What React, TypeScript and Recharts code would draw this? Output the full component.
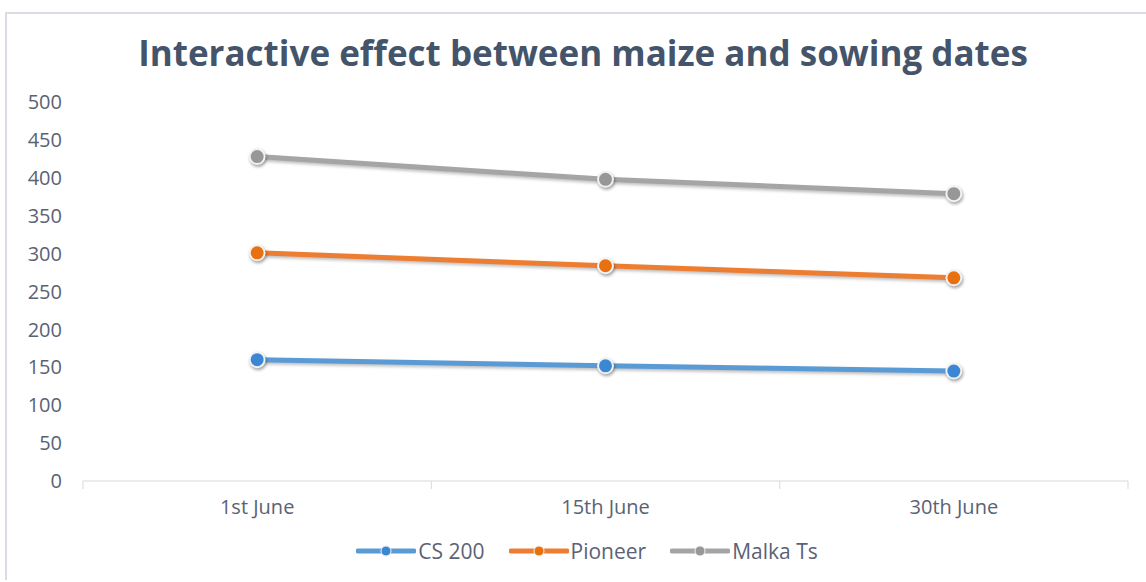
import React from "react";
import { LineChart, Line, XAxis, YAxis } from "recharts";

const dates = ["1st June", "15th June", "30th June"];
const cs200 = [160, 152, 145];
const pioneer = [301, 284, 268];
const malkaTs = [428, 398, 379];
const yTicks = [0, 50, 100, 150, 200, 250, 300, 350, 400, 450, 500];

const seriesList = [
  { key: "cs200", name: "CS 200", line: "#5b9bd5", dot: "#3b87d3" },
  { key: "pioneer", name: "Pioneer", line: "#ed7d31", dot: "#e9700f" },
  { key: "malkaTs", name: "Malka Ts", line: "#a5a5a5", dot: "#979797" },
];

const chartData = dates.map((d, i) => ({
  date: d,
  cs200: cs200[i],
  pioneer: pioneer[i],
  malkaTs: malkaTs[i],
}));

const W = 1146;
const H = 582;
const M = { top: 102, right: 18, bottom: 60, left: 13 };
const Y_W = 70;
const plotW = W - M.left - M.right - Y_W;
const half = plotW / (dates.length * 2);

const textColor = "#5a6274";
const font = "'Open Sans', sans-serif";

const XTick = (props: any) => {
  const { x, y, payload, index } = props;
  const axisY = y - 8;
  return (
    <g>
      <line x1={x - half} x2={x - half} y1={axisY} y2={axisY + 8} stroke="#d9d9d9" />
      {index === dates.length - 1 && (
        <line x1={x + half} x2={x + half} y1={axisY} y2={axisY + 8} stroke="#d9d9d9" />
      )}
      <text
        x={x}
        y={y + 25}
        textAnchor="middle"
        fill={textColor}
        fontSize={20}
        fontFamily={font}
      >
        {payload.value}
      </text>
    </g>
  );
};

const makeDot = (color: string) => (props: any) => {
  const { cx, cy, index } = props;
  if (cx == null || cy == null) return <g key={index} />;
  return (
    <circle
      key={index}
      cx={cx}
      cy={cy}
      r={7.5}
      fill={color}
      stroke="#f2f2f2"
      strokeWidth={2}
      style={{ filter: "drop-shadow(1px 2px 1.5px rgba(0,0,0,0.35))" }}
    />
  );
};

const LegendContent = () => (
  <div
    style={{
      display: "flex",
      justifyContent: "center",
      gap: 24,
      fontFamily: font,
      fontSize: 21,
      color: textColor,
    }}
  >
    {seriesList.map((s) => (
      <div key={s.key} style={{ display: "flex", alignItems: "center" }}>
        <svg width={60} height={14} style={{ marginRight: 2 }}>
          <line x1={2} x2={58} y1={7} y2={7} stroke={s.line} strokeWidth={5} strokeLinecap="round" />
          <circle cx={30} cy={7} r={5} fill={s.dot} stroke="#f2f2f2" strokeWidth={1} />
        </svg>
        <span>{s.name}</span>
      </div>
    ))}
  </div>
);

export default function App() {
  return (
    <div style={{ position: "absolute", left: 0, top: 0, width: W, height: H, background: "#fff" }}>
      <div
        style={{
          position: "absolute",
          left: 5,
          top: 12,
          width: W - 5,
          height: H - 14,
          borderLeft: "2px solid #d9dde3",
          borderTop: "2px solid #d9dde3",
          boxSizing: "border-box",
        }}
      />
      <div
        style={{
          position: "absolute",
          left: 0,
          top: 29,
          width: W + 20,
          textAlign: "center",
          fontFamily: font,
          fontWeight: 700,
          fontSize: 35,
          color: "#44546a",
        }}
      >
        Interactive effect between maize and sowing dates
      </div>
      <div style={{ position: "absolute", left: 0, top: 0 }}>
        <LineChart width={W} height={H} data={chartData} margin={M}>
          <XAxis
            dataKey="date"
            padding={{ left: half, right: half }}
            axisLine={{ stroke: "#d9d9d9" }}
            tickLine={false}
            height={41}
            tick={<XTick />}
            interval={0}
          />
          <YAxis
            width={Y_W}
            domain={[0, 500]}
            ticks={yTicks}
            axisLine={false}
            tickLine={false}
            tickSize={0}
            tickMargin={21}
            interval={0}
            tick={{ fill: textColor, fontSize: 20, fontFamily: font }}
          />
          {seriesList.map((s) => (
            <Line
              key={s.key}
              dataKey={s.key}
              name={s.name}
              type="linear"
              stroke={s.line}
              strokeWidth={5}
              strokeLinecap="round"
              dot={makeDot(s.dot)}
              activeDot={false}
              isAnimationActive={false}
              style={{ filter: "drop-shadow(0px 2px 1.5px rgba(0,0,0,0.25))" }}
            />
          ))}
        </LineChart>
      </div>
      <div style={{ position: "absolute", left: 15, top: 537, width: W - 2 }}>
        <LegendContent />
      </div>
    </div>
  );
}
